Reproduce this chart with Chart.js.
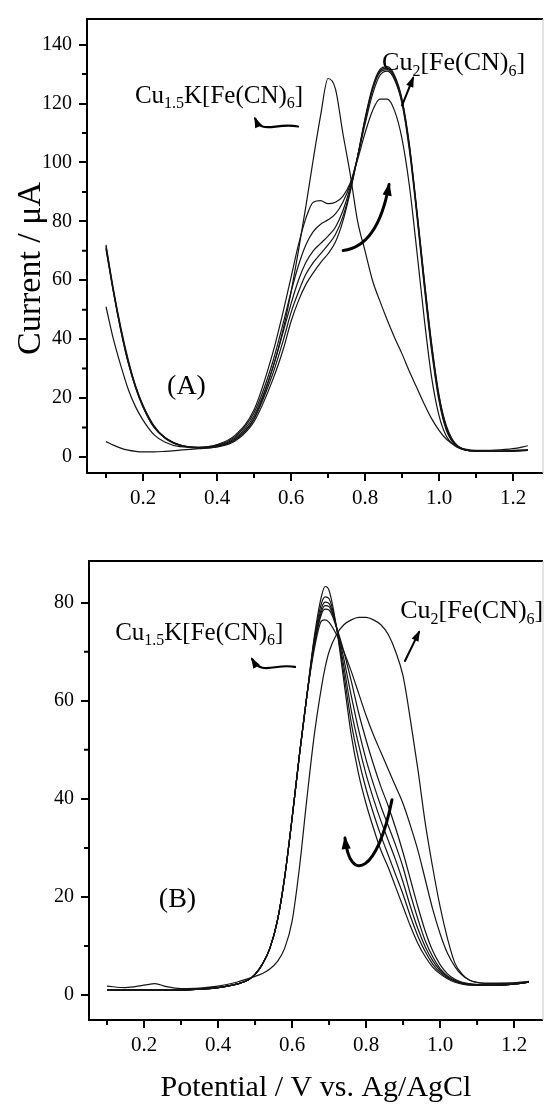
<!DOCTYPE html>
<html>
<head>
<meta charset="utf-8">
<script src="https://cdn.jsdelivr.net/npm/chart.js@4.4.1/dist/chart.umd.min.js"></script>
<style>
  body { margin: 0; background: #fff; }
  #wrap { position: relative; width: 544px; height: 1108px; }
  .panel { position: absolute; left: 0; width: 544px; }
  #panelA { top: 0; height: 530px; }
  #panelB { top: 540px; height: 568px; }
</style>
</head>
<body>
<div id="wrap">
  <div class="panel" id="panelA"><canvas id="chartA"></canvas></div>
  <div class="panel" id="panelB"><canvas id="chartB"></canvas></div>
</div>
<script>
// ---- data ----
// ticks
const xTicks = [0.2, 0.4, 0.6, 0.8, 1.0, 1.2];
const xMinor = [0.1, 0.3, 0.5, 0.7, 0.9, 1.1];
const yTicksA = [0, 20, 40, 60, 80, 100, 120, 140];
const yMinorA = [10, 30, 50, 70, 90, 110, 130];
const yTicksB = [0, 20, 40, 60, 80];
const yMinorB = [10, 30, 50, 70];

// panel A: potential (V) and current (uA) of the successive scans
const potentialA = [0.10, 0.12, 0.14, 0.16, 0.18, 0.20, 0.23, 0.26, 0.30, 0.35, 0.40, 0.45,
  0.50, 0.55, 0.58, 0.60, 0.62, 0.64, 0.66, 0.68, 0.70, 0.72, 0.74, 0.76,
  0.78, 0.80, 0.82, 0.84, 0.86, 0.88, 0.90, 0.92, 0.94, 0.96, 0.98, 1.00,
  1.02, 1.05, 1.10, 1.15, 1.20, 1.24];
const scanA1 = [5.2, 4.0, 3.0, 2.3, 1.9, 1.7, 1.7, 1.9, 2.3, 2.8, 3.5, 6,
  13, 30, 44, 56, 70, 85, 101, 116, 128.5, 125, 110, 96,
  80, 70, 60, 53, 46.5, 40.5, 35, 29, 23.5, 18, 13, 9,
  6, 3.5, 2.2, 2.3, 2.8, 3.8];
const scanA2 = [51, 40, 31, 23, 17, 12.5, 7.5, 5, 3.5, 3.3, 4.2, 7.5,
  16, 35, 50, 61, 72, 81, 86.5, 87, 86, 86.5, 88.5, 93,
  101, 110, 117.5, 121.5, 121.5, 117.5, 108, 92, 70, 47, 27, 14,
  7, 3.2, 2.0, 2.0, 2.2, 2.5];
const scanA3 = [71, 56, 43, 32, 23.5, 17, 10, 6.5, 4, 3.3, 4, 7,
  15, 32, 46, 56, 65, 72, 76.5, 79, 80.5, 82.5, 86.5, 92.5,
  102, 113, 123, 129.5, 131, 128, 120, 104, 82, 58, 36, 19,
  9, 3.5, 2.0, 1.9, 2.0, 2.2];
const scanA4 = [72, 57, 44, 33, 24, 17.5, 10.5, 6.5, 4, 3.2, 3.8, 6.5,
  14, 30, 43, 52, 60, 66, 70, 72.5, 75, 78, 83.5, 91.5,
  102, 114, 124.5, 130.5, 131.5, 128.5, 120.5, 105, 83, 59, 37, 20,
  9.5, 3.6, 2.0, 1.9, 2.0, 2.2];
const scanA5 = [71.5, 56.5, 43.5, 32.5, 24, 17.5, 10.5, 6.5, 4, 3.1, 3.6, 6,
  13, 28, 40, 49, 56, 62, 66, 69, 72, 75.5, 81.5, 90.5,
  102, 114.5, 125, 131, 132, 129, 121, 105.5, 83.5, 60, 38, 20.5,
  10, 3.7, 2.0, 1.9, 2.0, 2.3];
const scanA6 = [70.5, 56, 43, 32, 23.5, 17, 10, 6.3, 3.9, 3.0, 3.4, 5.5,
  12, 26, 37, 46, 53, 58.5, 62.5, 66, 69, 73, 80, 90,
  102, 115, 125.5, 131.5, 132.5, 129.5, 121.5, 106, 84, 60.5, 38.5, 21,
  10.5, 3.8, 2.0, 1.9, 2.0, 2.3];

// panel B
const potentialB = [0.10, 0.15, 0.20, 0.23, 0.26, 0.30, 0.35, 0.40, 0.45, 0.48, 0.50, 0.52,
  0.54, 0.56, 0.58, 0.60, 0.62, 0.64, 0.66, 0.68, 0.69, 0.70, 0.72, 0.74,
  0.76, 0.78, 0.80, 0.82, 0.84, 0.86, 0.88, 0.90, 0.92, 0.94, 0.96, 0.98,
  1.00, 1.02, 1.04, 1.06, 1.08, 1.10, 1.15, 1.20, 1.24];
const scanB1 = [1.8, 1.5, 2.0, 2.3, 1.7, 1.3, 1.4, 1.8, 2.6, 3.3, 3.8, 4.4,
  5.3, 6.8, 9.5, 15, 26, 40, 53, 63, 67, 70, 73.5, 75.5,
  76.5, 77, 77, 76.5, 75.5, 73.5, 70, 65, 56, 46, 35, 26,
  18, 11.5, 6.5, 4.2, 3.0, 2.6, 2.4, 2.5, 2.8];
const scanB2 = [1.0, 1.0, 1.0, 1.0, 1.0, 1.0, 1.2, 1.5, 2.2, 3.0, 4.2, 6.3,
  9.5, 15, 24, 36, 49, 61, 73, 81.5, 83.3, 82.5, 75, 64,
  53, 45, 39, 34, 29.5, 26, 22, 18, 14, 10.5, 7.8, 5.7,
  4.3, 3.3, 2.6, 2.2, 2.0, 2.0, 2.0, 2.2, 2.6];
const scanB3 = [1.0, 1.0, 1.0, 1.0, 1.0, 1.0, 1.2, 1.5, 2.2, 3.0, 4.2, 6.3,
  9.5, 15, 24, 36, 49, 61, 72.5, 80, 81.2, 80.8, 75, 65.5,
  55.5, 48, 42, 37, 32.5, 28.5, 24.5, 20.5, 16, 12, 8.8, 6.3,
  4.6, 3.5, 2.8, 2.3, 2.1, 2.0, 2.0, 2.2, 2.6];
const scanB4 = [1.0, 1.0, 1.0, 1.0, 1.0, 1.0, 1.2, 1.5, 2.2, 3.0, 4.2, 6.3,
  9.5, 15, 24, 36, 49, 61, 72, 79, 80.1, 79.8, 75, 67,
  58, 51, 45, 40, 35.5, 31.5, 27.5, 23, 18, 13.5, 9.8, 7,
  5, 3.7, 2.9, 2.4, 2.1, 2.0, 2.0, 2.2, 2.6];
const scanB5 = [1.0, 1.0, 1.0, 1.0, 1.0, 1.0, 1.2, 1.5, 2.2, 3.0, 4.2, 6.3,
  9.5, 15, 24, 36, 49, 61, 71.5, 78.3, 79.4, 79.2, 75, 68.5,
  61, 54, 48, 43, 38.5, 34.5, 30.5, 26, 20.5, 15.5, 11, 7.8,
  5.4, 3.9, 3.0, 2.5, 2.2, 2.0, 2.0, 2.2, 2.6];
const scanB6 = [1.0, 1.0, 1.0, 1.0, 1.0, 1.0, 1.2, 1.5, 2.2, 3.0, 4.2, 6.3,
  9.5, 15, 24, 36, 49, 61, 71.2, 77.8, 78.7, 78.5, 75, 70,
  64, 57.5, 52, 47, 42.5, 38.5, 34, 29, 23.5, 18, 13, 9,
  6.2, 4.3, 3.2, 2.6, 2.3, 2.1, 2.0, 2.2, 2.6];
const scanB7 = [1.0, 1.0, 1.0, 1.0, 1.0, 1.0, 1.2, 1.5, 2.2, 3.0, 4.2, 6.3,
  9.5, 15, 24, 36, 49, 61, 70.5, 76.3, 76.5, 76, 73.5, 70,
  66, 61.5, 57, 53, 49.5, 46, 42.5, 39, 34.5, 29.5, 23.5, 17.5,
  12.5, 8.5, 5.8, 4.0, 3.0, 2.5, 2.3, 2.4, 2.7];

const SERIF = '"Liberation Serif", "Times New Roman", serif';

// frame, minor ticks, axis title, formula labels and arrows
const panelMarks = {
  id: 'panelMarks',
  afterDatasetsDraw(chart, args, opts) {
    const { ctx, chartArea: a, scales: { x, y } } = chart;
    const P = (v, i) => [x.getPixelForValue(v), y.getPixelForValue(i)];
    ctx.save();
    ctx.strokeStyle = '#000';
    ctx.lineWidth = 2;
    ctx.beginPath();
    ctx.moveTo(a.right, a.top);
    ctx.lineTo(a.left, a.top);
    ctx.lineTo(a.left, a.bottom);
    ctx.lineTo(a.right, a.bottom);
    ctx.stroke();
    ctx.strokeStyle = '#c8c8c8';
    ctx.lineWidth = 1;
    ctx.beginPath();
    ctx.moveTo(a.right, a.top);
    ctx.lineTo(a.right, a.bottom);
    ctx.stroke();

    // minor ticks
    ctx.strokeStyle = '#000';
    ctx.lineWidth = 2;
    ctx.beginPath();
    opts.minorX.forEach(v => {
      const px = x.getPixelForValue(v);
      ctx.moveTo(px, a.bottom);
      ctx.lineTo(px, a.bottom + 5);
    });
    opts.minorY.forEach(v => {
      const py = y.getPixelForValue(v);
      ctx.moveTo(a.left - 5, py);
      ctx.lineTo(a.left, py);
    });
    ctx.stroke();

    ctx.fillStyle = '#000';

    // rotated y title
    if (opts.yTitle) {
      const t = opts.yTitle;
      ctx.save();
      ctx.translate(t.x, y.getPixelForValue(t.at));
      ctx.rotate(-Math.PI / 2);
      ctx.font = t.size + 'px ' + SERIF;
      ctx.textAlign = 'center';
      ctx.textBaseline = 'middle';
      ctx.fillText(t.text, 0, 0);
      ctx.restore();
    }

    // text labels with subscripts
    ctx.textBaseline = 'alphabetic';
    opts.labels.forEach(l => {
      let [px, py] = P(l.at[0], l.at[1]);
      l.parts.forEach(([txt, sub]) => {
        const size = sub ? Math.round(l.size * 0.62) : l.size;
        ctx.font = size + 'px ' + SERIF;
        ctx.fillText(txt, px, sub ? py + l.size * 0.22 : py);
        px += ctx.measureText(txt).width;
      });
    });

    // arrows
    opts.arrows.forEach(ar => {
      const pts = ar.path.map(p => P(p[0], p[1]));
      ctx.lineWidth = ar.width;
      ctx.lineCap = 'round';
      ctx.beginPath();
      ctx.moveTo(pts[0][0], pts[0][1]);
      if (pts.length === 2) ctx.lineTo(pts[1][0], pts[1][1]);
      if (pts.length === 3) ctx.quadraticCurveTo(pts[1][0], pts[1][1], pts[2][0], pts[2][1]);
      if (pts.length === 4) ctx.bezierCurveTo(pts[1][0], pts[1][1], pts[2][0], pts[2][1], pts[3][0], pts[3][1]);
      ctx.stroke();
      const tip = pts[pts.length - 1];
      const prev = pts[pts.length - 2];
      const ang = Math.atan2(tip[1] - prev[1], tip[0] - prev[0]);
      const len = ar.head, half = ar.head * 0.42;
      ctx.beginPath();
      ctx.moveTo(tip[0] + Math.cos(ang) * 2, tip[1] + Math.sin(ang) * 2);
      ctx.lineTo(tip[0] - Math.cos(ang) * len + Math.sin(ang) * half, tip[1] - Math.sin(ang) * len - Math.cos(ang) * half);
      ctx.lineTo(tip[0] - Math.cos(ang) * len - Math.sin(ang) * half, tip[1] - Math.sin(ang) * len + Math.cos(ang) * half);
      ctx.closePath();
      ctx.fill();
    });
    ctx.restore();
  }
};

const cu15 = [['Cu', 0], ['1.5', 1], ['K[Fe(CN)', 0], ['6', 1], [']', 0]];
const cu2 = [['Cu', 0], ['2', 1], ['[Fe(CN)', 0], ['6', 1], [']', 0]];

function makeSets(xs, scans) {
  return scans.map(s => ({
    data: xs.map((v, i) => ({ x: v, y: s[i] })),
    borderColor: '#141414',
    borderWidth: 1.2,
    pointRadius: 0,
    fill: false,
    cubicInterpolationMode: 'monotone'
  }));
}

function makeChart(id, cfg) {
  return new Chart(document.getElementById(id), {
    type: 'line',
    data: { datasets: makeSets(cfg.xs, cfg.scans) },
    plugins: [panelMarks],
    options: {
      responsive: true,
      maintainAspectRatio: false,
      animation: false,
      events: [],
      layout: { padding: { top: cfg.top, right: 1, left: 0, bottom: 0 } },
      plugins: {
        legend: { display: false },
        tooltip: { enabled: false },
        panelMarks: { minorX: xMinor, minorY: cfg.minorY, yTitle: cfg.yTitle, labels: cfg.labels, arrows: cfg.arrows }
      },
      scales: {
        x: {
          type: 'linear',
          min: cfg.xRange[0],
          max: cfg.xRange[1],
          afterBuildTicks: s => { s.ticks = xTicks.map(v => ({ value: v })); },
          afterFit: s => { s.height = cfg.xHeight; },
          border: { display: false },
          grid: { drawOnChartArea: false, color: '#000', lineWidth: 2, tickLength: 8 },
          ticks: {
            color: '#000', padding: 5, maxRotation: 0,
            font: { family: SERIF, size: 21 },
            callback: v => v.toFixed(1)
          },
          title: cfg.xTitle
        },
        y: {
          min: cfg.yRange[0],
          max: cfg.yRange[1],
          afterBuildTicks: s => { s.ticks = cfg.yTicks.map(v => ({ value: v })); },
          afterFit: s => { s.width = cfg.yWidth; },
          border: { display: false },
          grid: { drawOnChartArea: false, color: '#000', lineWidth: 2, tickLength: 8 },
          ticks: { color: '#000', padding: 7, font: { family: SERIF, size: 20 } }
        }
      }
    }
  });
}

makeChart('chartA', {
  xs: potentialA,
  scans: [scanA1, scanA2, scanA3, scanA4, scanA5, scanA6],
  top: 12, xHeight: 57, yWidth: 87,
  xRange: [0.0486, 1.281], yRange: [-5.45, 148.7],
  yTicks: yTicksA, minorY: yMinorA,
  xTitle: { display: false },
  yTitle: { text: 'Current / \u03bcA', size: 34, x: 31, at: 64 },
  labels: [
    { parts: cu15, at: [0.178, 120.2], size: 25 },
    { parts: cu2, at: [0.846, 131.3], size: 26 },
    { parts: [['(A)', 0]], at: [0.265, 21.5], size: 28 }
  ],
  arrows: [
    { path: [[0.619, 112.2], [0.557, 113.6], [0.522, 109.3], [0.503, 114.9]], width: 2.2, head: 9 },
    { path: [[0.900, 119.3], [0.930, 128.7]], width: 2, head: 9 },
    { path: [[0.741, 70.1], [0.835, 71.5], [0.865, 92.5]], width: 3, head: 11 }
  ]
});

makeChart('chartB', {
  xs: potentialB,
  scans: [scanB1, scanB2, scanB3, scanB4, scanB5, scanB6, scanB7],
  top: 21, xHeight: 88, yWidth: 89,
  xRange: [0.0514, 1.278], yRange: [-5.1, 88.5],
  yTicks: yTicksB, minorY: yMinorB,
  xTitle: {
    display: true, text: 'Potential / V vs. Ag/AgCl', color: '#000',
    font: { family: SERIF, size: 30 }, padding: { top: 0, bottom: 2 }
  },
  yTitle: null,
  labels: [
    { parts: cu15, at: [0.122, 72.4], size: 25 },
    { parts: cu2, at: [0.892, 76.9], size: 26 },
    { parts: [['(B)', 0]], at: [0.24, 18], size: 28 }
  ],
  arrows: [
    { path: [[0.608, 66.9], [0.554, 67.7], [0.519, 65.0], [0.492, 68.5]], width: 2.2, head: 9 },
    { path: [[0.905, 68.1], [0.943, 74.0]], width: 2, head: 9 },
    { path: [[0.870, 39.8], [0.832, 25.1], [0.757, 22.4], [0.743, 32.0]], width: 3, head: 11 }
  ]
});
</script>
</body>
</html>
